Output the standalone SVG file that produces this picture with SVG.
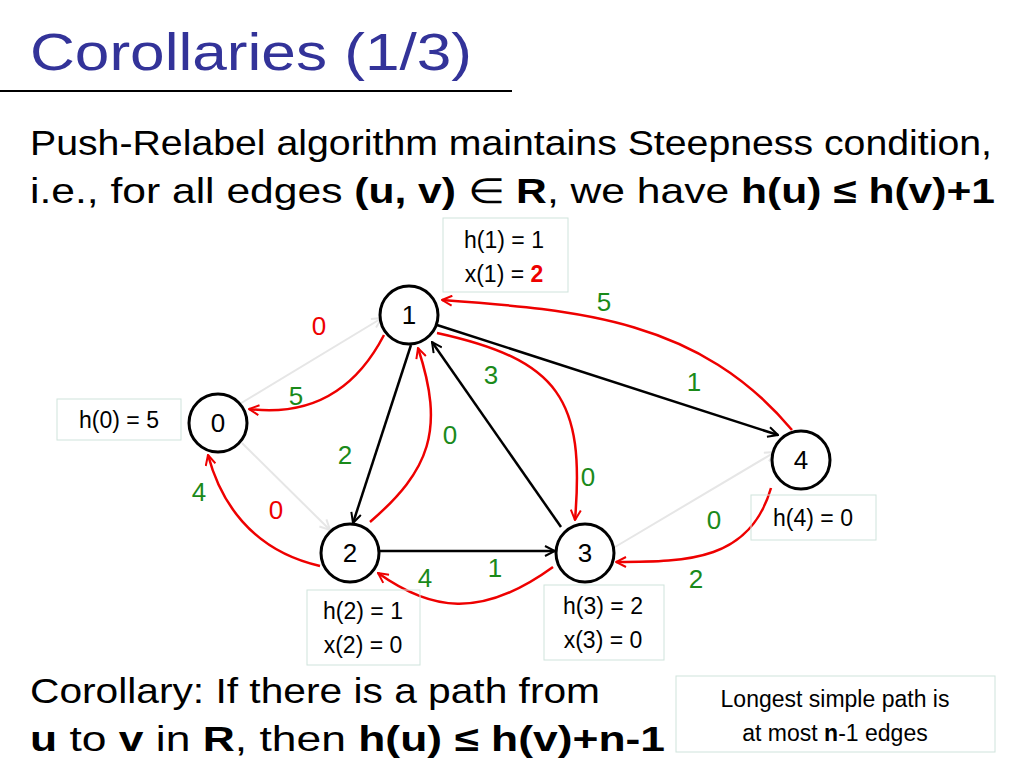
<svg xmlns="http://www.w3.org/2000/svg" width="1024" height="768" viewBox="0 0 1024 768">
<defs>
<marker id="ak" viewBox="0 0 12 12" refX="11" refY="6" markerWidth="12" markerHeight="12" markerUnits="userSpaceOnUse" orient="auto"><path d="M1,1 L11,6 L1,11" fill="none" stroke="#000" stroke-width="2"/></marker>
<marker id="ar" viewBox="0 0 12 12" refX="11" refY="6" markerWidth="12" markerHeight="12" markerUnits="userSpaceOnUse" orient="auto"><path d="M1,1 L11,6 L1,11" fill="none" stroke="#e00" stroke-width="2"/></marker>
<marker id="ag" viewBox="0 0 12 12" refX="11" refY="6" markerWidth="12" markerHeight="12" markerUnits="userSpaceOnUse" orient="auto"><path d="M1,1 L11,6 L1,11" fill="none" stroke="#e6e6e6" stroke-width="2"/></marker>
</defs>
<style>
.t{font-family:"Liberation Sans",Arial,sans-serif;fill:#000}
.n{fill:#fff;stroke:#000;stroke-width:3}
.nl{font-family:"Liberation Sans",Arial,sans-serif;font-size:26px;text-anchor:middle}
.box{fill:none;stroke:#cfe3dc;stroke-width:1}
.bt{font-family:"Liberation Sans",Arial,sans-serif;font-size:23px;text-anchor:middle}
.g{font-family:"Liberation Sans",Arial,sans-serif;font-size:26px;fill:#1a8a1a;text-anchor:middle}
.r{font-family:"Liberation Sans",Arial,sans-serif;font-size:26px;fill:#e00;text-anchor:middle}
.ek{fill:none;stroke:#000;stroke-width:2.5;marker-end:url(#ak)}
.er{fill:none;stroke:#e00;stroke-width:2.5;marker-end:url(#ar)}
.eg{fill:none;stroke:#e6e6e6;stroke-width:2;marker-end:url(#ag)}
</style>
<rect width="1024" height="768" fill="#fff"/>
<text x="30" y="70" font-family="Liberation Sans,sans-serif" font-size="52" fill="#333399" textLength="442" lengthAdjust="spacingAndGlyphs">Corollaries (1/3)</text>
<line x1="0" y1="91" x2="512" y2="91" stroke="#000" stroke-width="2"/>
<text class="t" x="30" y="155" font-size="35" textLength="962" lengthAdjust="spacingAndGlyphs">Push-Relabel algorithm maintains Steepness condition,</text>
<text class="t" x="30" y="203" font-size="35" textLength="965" lengthAdjust="spacingAndGlyphs">i.e., for all edges <tspan font-weight="bold">(u, v)</tspan> ∈ <tspan font-weight="bold">R</tspan>, we have <tspan font-weight="bold">h(u) ≤ h(v)+1</tspan></text>
<text class="t" x="30" y="703" font-size="35" textLength="570" lengthAdjust="spacingAndGlyphs">Corollary: If there is a path from</text>
<text class="t" x="30" y="751" font-size="35" textLength="635" lengthAdjust="spacingAndGlyphs"><tspan font-weight="bold">u</tspan> to <tspan font-weight="bold">v</tspan> in <tspan font-weight="bold">R</tspan>, then <tspan font-weight="bold">h(u) ≤ h(v)+n-1</tspan></text>
<g id="note"><rect class="box" x="676" y="676" width="319" height="76"/>
<text class="bt" x="835" y="707" font-size="26">Longest simple path is</text>
<text class="bt" x="835" y="741" font-size="26">at most <tspan font-weight="bold">n</tspan>-1 edges</text></g>
<g id="connectors">
<line class="eg" x1="238" y1="405" x2="382" y2="318"/>
<line class="eg" x1="242" y1="443" x2="330" y2="530"/>
<line class="eg" x1="615" y1="547" x2="775" y2="452"/>
<line class="ek" x1="411" y1="345" x2="353" y2="523"/>
<line class="ek" x1="561" y1="527" x2="432" y2="342"/>
<line class="ek" x1="437" y1="325" x2="778" y2="435"/>
<line class="ek" x1="380" y1="551" x2="555" y2="551"/>
<path class="er" d="M384,335 Q340,420 249,409"/>
<path class="er" d="M370,522 C430,470 445,430 418,348"/>
<path class="er" d="M437,333 C560,360 585,400 575,520"/>
<path class="er" d="M792,430 C700,320 580,310 442,300"/>
<path class="er" d="M771,488 C750,560 690,562 616,562"/>
<path class="er" d="M553,567 C480,620 430,610 378,573"/>
<path class="er" d="M320,566 C250,550 220,500 208,455"/>
</g>
<g id="labels">
<text class="r" x="319" y="335">0</text>
<text class="g" x="296" y="405">5</text>
<text class="g" x="491" y="384">3</text>
<text class="g" x="604" y="311">5</text>
<text class="g" x="694" y="391">1</text>
<text class="g" x="450" y="444">0</text>
<text class="g" x="345" y="464">2</text>
<text class="g" x="588" y="486">0</text>
<text class="g" x="199" y="501">4</text>
<text class="r" x="276" y="519">0</text>
<text class="g" x="714" y="529">0</text>
<text class="g" x="495" y="577">1</text>
<text class="g" x="425" y="587">4</text>
<text class="g" x="696" y="588">2</text>
</g>
<g id="n1"><circle class="n" cx="409" cy="315" r="29"/><text class="nl" x="409" y="324">1</text></g>
<g id="n0"><circle class="n" cx="218" cy="423" r="29"/><text class="nl" x="218" y="432">0</text></g>
<g id="n2"><circle class="n" cx="350" cy="553" r="29"/><text class="nl" x="350" y="562">2</text></g>
<g id="n3"><circle class="n" cx="585" cy="553" r="29"/><text class="nl" x="585" y="562">3</text></g>
<g id="n4"><circle class="n" cx="801" cy="460" r="29"/><text class="nl" x="801" y="469">4</text></g>
<g id="b1"><rect class="box" x="443" y="218" width="125" height="74"/><text class="bt" x="504" y="248">h(1) = 1</text><text class="bt" x="504" y="282">x(1) = <tspan fill="#e00" font-weight="bold">2</tspan></text></g>
<g id="b0"><rect class="box" x="57" y="399" width="124" height="41"/><text class="bt" x="119" y="428">h(0) = 5</text></g>
<g id="b4"><rect class="box" x="751" y="495" width="125" height="45"/><text class="bt" x="813" y="526">h(4) = 0</text></g>
<g id="b2"><rect class="box" x="307" y="590" width="113" height="75"/><text class="bt" x="363" y="619">h(2) = 1</text><text class="bt" x="363" y="653">x(2) = 0</text></g>
<g id="b3"><rect class="box" x="544" y="585" width="120" height="75"/><text class="bt" x="603" y="614">h(3) = 2</text><text class="bt" x="603" y="648">x(3) = 0</text></g>
</svg>
